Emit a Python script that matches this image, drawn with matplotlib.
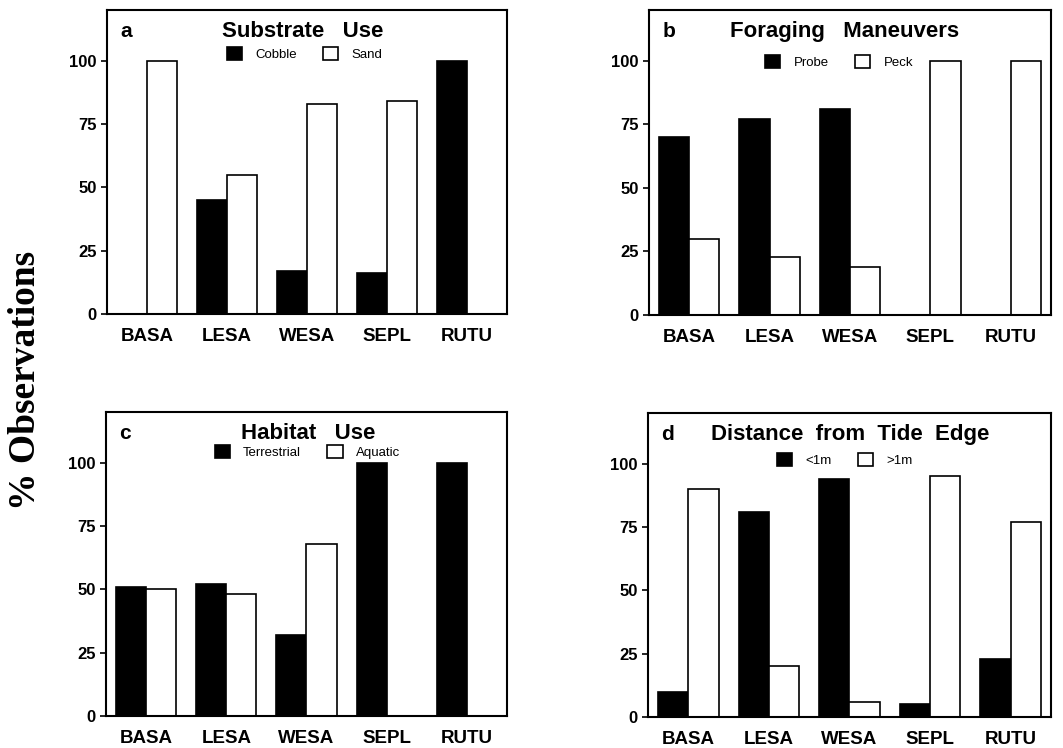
import numpy as np
import matplotlib
matplotlib.use('Agg')
from matplotlib import pyplot as plt
from matplotlib.patches import Patch

# species codes along the x axis
species = ['BASA', 'LESA', 'WESA', 'SEPL', 'RUTU']

# a - substrate use
cobble = [0, 45, 17, 16, 100]
sand = [100, 55, 83, 84, 0]

# b - foraging maneuvers
probe = [70, 77, 81, 0, 0]
peck = [30, 23, 19, 100, 100]

# c - habitat use
terrestrial = [51, 52, 32, 100, 100]
aquatic = [50, 48, 68, 0, 0]

# d - distance from tide edge
under_1m = [10, 81, 94, 5, 23]
over_1m = [90, 20, 6, 95, 77]

yticks = [0, 25, 50, 75, 100]

SANS = 'Liberation Sans'
SERIF = 'Liberation Serif'


def drawPanel(ax, letter, title, dark, light, labels, leg_xy, title_x):
    x = np.arange(len(species))
    w = 0.375
    ax.bar(x - w / 2, dark, w, color='black', edgecolor='black', linewidth=1.2)
    ax.bar(x + w / 2, light, w, color='white', edgecolor='black', linewidth=1.2)

    ax.set_xlim(-0.5, len(species) - 0.5)
    ax.set_ylim(0, 120)
    ax.set_xticks(x)
    ax.set_xticklabels(species, fontfamily=SANS, fontweight='bold', fontsize=13.5)
    ax.set_yticks(yticks)
    ax.set_yticklabels([str(t) for t in yticks], fontfamily=SANS,
                       fontweight='bold', fontsize=12)
    ax.tick_params(axis='x', length=0, pad=10)
    ax.tick_params(axis='y', direction='out', length=4.5, width=1.2, pad=3)
    for s in ax.spines.values():
        s.set_linewidth(1.5)

    ax.text(0.033, 0.91, letter, transform=ax.transAxes, fontfamily=SANS,
            fontweight='bold', fontsize=15, ha='left', va='baseline')
    ax.text(title_x, 0.91, title, transform=ax.transAxes, fontfamily=SANS,
            fontweight='bold', fontsize=16, ha='center', va='baseline')

    handles = [Patch(facecolor='black', edgecolor='black', linewidth=1.2),
               Patch(facecolor='white', edgecolor='black', linewidth=1.2)]
    ax.legend(handles, labels, loc='center', bbox_to_anchor=leg_xy, ncol=2,
              frameon=False, prop={'family': SANS, 'size': 9.5},
              handlelength=1.15, handleheight=1.1, handletextpad=1.0,
              columnspacing=2.0, borderpad=0, borderaxespad=0)


def main():
    fig = plt.figure(figsize=(10.63, 7.48), dpi=100)

    ax_a = fig.add_axes([0.1007, 0.5802, 0.3763, 0.4064])
    ax_b = fig.add_axes([0.6105, 0.5789, 0.3782, 0.4078])
    ax_c = fig.add_axes([0.0997, 0.0428, 0.3772, 0.4064])
    ax_d = fig.add_axes([0.6096, 0.0414, 0.3791, 0.4064])

    drawPanel(ax_a, 'a', 'Substrate   Use', cobble, sand,
              ['Cobble', 'Sand'], (0.494, 0.855), 0.49)
    drawPanel(ax_b, 'b', 'Foraging   Maneuvers', probe, peck,
              ['Probe', 'Peck'], (0.473, 0.83), 0.487)
    drawPanel(ax_c, 'c', 'Habitat   Use', terrestrial, aquatic,
              ['Terrestrial', 'Aquatic'], (0.502, 0.868), 0.504)
    drawPanel(ax_d, 'd', 'Distance  from  Tide  Edge', under_1m, over_1m,
              ['<1m', '>1m'], (0.488, 0.845), 0.501)

    fig.text(0.0236, 0.492, '% Observations', rotation=90, fontfamily=SERIF,
             fontweight='bold', fontsize=27, ha='center', va='center')

    fig.savefig('out.png', dpi=100)


if __name__ == '__main__':
    main()
